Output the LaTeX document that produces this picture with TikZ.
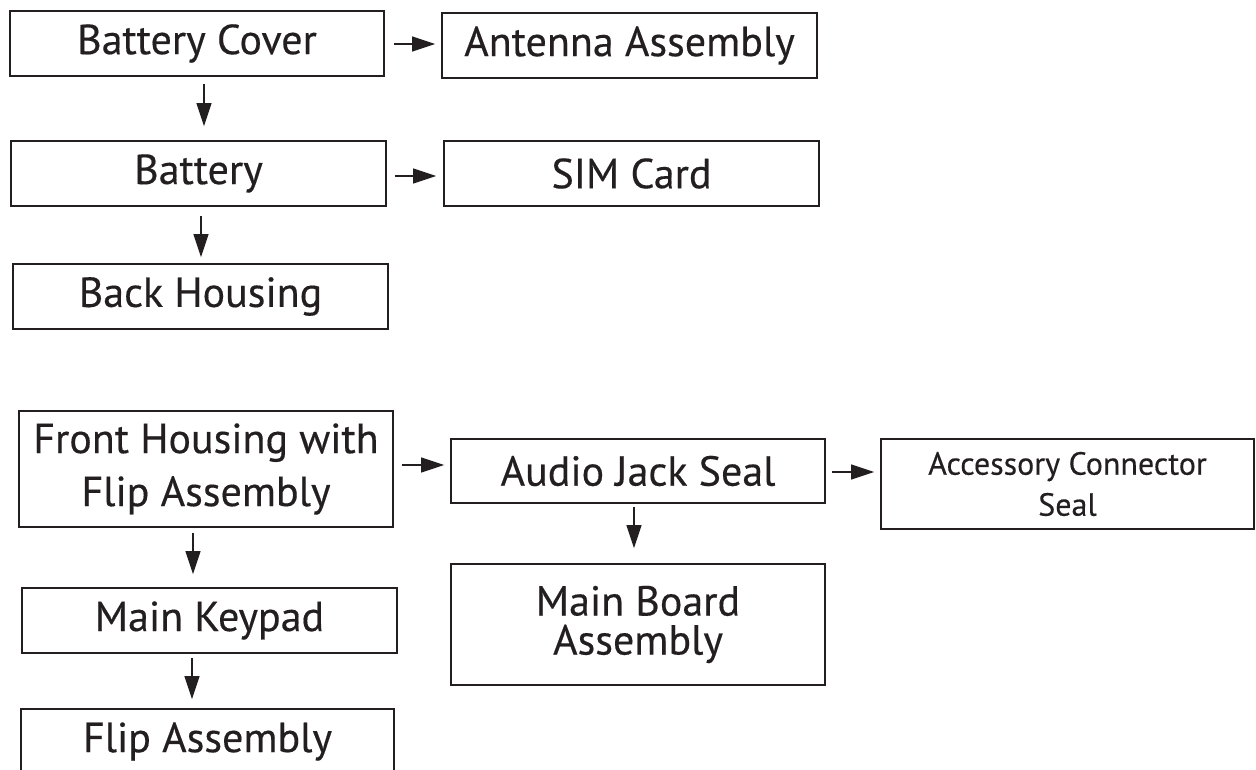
\documentclass[tikz,border=0pt]{standalone}
\usepackage{fontspec}
\setmainfont{PT Sans}
\newfontfamily\lab[FakeBold=0.35]{PT Sans}
\usetikzlibrary{arrows.meta}
\definecolor{ink}{HTML}{231F20}
\tikzset{
  box/.style={draw=ink, text=ink, line width=1.7pt, inner sep=0pt, align=center,
    font=\lab\fontsize{42}{53}\selectfont},
  arr/.style={draw=ink, line width=1.3pt, -{Triangle[length=23pt,width=15pt]}}
}
\begin{document}
\begin{tikzpicture}[x=1pt,y=-1pt]
\useasboundingbox (0,0) rectangle (1256,770);
\clip (0,0) rectangle (1256,770);
\node[box, minimum width=374pt, minimum height=65pt] (bc) at (197,43.5) {Battery Cover};
\node[box, minimum width=375pt, minimum height=65pt] (ant) at (629.5,45.5) {Antenna Assembly};
\node[box, minimum width=375pt, minimum height=65pt] (bat) at (198.5,173.5) {Battery};
\node[box, minimum width=375pt, minimum height=65pt] (sim) at (631.5,173.5) {SIM Card};
\node[box, minimum width=375pt, minimum height=65pt] (bh) at (200.5,296.5) {Back Housing};
\node[box, minimum width=374pt, minimum height=116pt] (fh) at (206,469) {Front Housing with\\Flip Assembly};
\node[box, minimum width=374pt, minimum height=64pt] (ajs) at (638,471) {Audio Jack Seal};
\node[box, minimum width=373pt, minimum height=90pt, font=\lab\fontsize{32}{41}\selectfont] (acs) at (1067.5,484) {Accessory Connector\\Seal};
\node[box, minimum width=375pt, minimum height=65pt] (mk) at (209.5,620.5) {Main Keypad};
\node[box, minimum width=374pt, minimum height=121pt, font=\lab\fontsize{42}{39}\selectfont] (mba) at (638,624.5) {Main Board\\Assembly};
\node[box, minimum width=373pt, minimum height=65pt] (fa) at (207.5,741.5) {Flip Assembly};
% horizontal arrows
\draw[arr, shorten <=9pt, shorten >=6pt] ([yshift=-0.5pt]bc.east) -- ([yshift=-0.5pt]bc.east -| ant.west);
\draw[arr, shorten <=8pt, shorten >=7pt] ([yshift=-2.5pt]bat.east) -- ([yshift=-2.5pt]bat.east -| sim.west);
\draw[arr, shorten <=8pt, shorten >=6pt] ([yshift=4pt]fh.east) -- ([yshift=4pt]fh.east -| ajs.west);
\draw[arr, shorten <=6pt, shorten >=6pt] ([yshift=-1pt]ajs.east) -- ([yshift=-1pt]ajs.east -| acs.west);
% vertical arrows
\draw[arr, shorten <=7pt, shorten >=14pt] ([xshift=7pt]bc.south) -- ([xshift=7pt]bc.south |- bat.north);
\draw[arr, shorten <=9pt, shorten >=6pt] ([xshift=2.5pt]bat.south) -- ([xshift=2.5pt]bat.south |- bh.north);
\draw[arr, shorten <=3pt, shorten >=15pt] ([xshift=-4pt]ajs.south) -- ([xshift=-4pt]ajs.south |- mba.north);
\draw[arr, shorten <=5pt, shorten >=13pt] ([xshift=-13pt]fh.south) -- ([xshift=-13pt]fh.south |- mk.north);
\draw[arr, shorten <=4pt, shorten >=9pt] ([xshift=-17.5pt]mk.south) -- ([xshift=-17.5pt]mk.south |- fa.north);
\end{tikzpicture}
\end{document}
